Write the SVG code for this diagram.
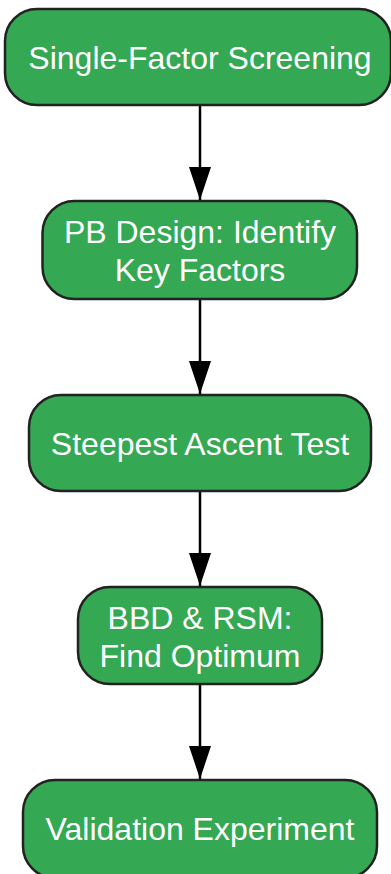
<svg xmlns="http://www.w3.org/2000/svg" width="391" height="874" viewBox="0 0 391 874">
<style>
.node rect{fill:#34a853;stroke:#222;stroke-width:2.5}
.node text{fill:#fff;font-family:"Liberation Sans",Arial,sans-serif;font-size:32px;text-anchor:middle}
.edge{stroke:#000;stroke-width:2.5;fill:none;marker-end:url(#ah)}
</style>
<defs>
<marker id="ah" markerUnits="userSpaceOnUse" markerWidth="34" markerHeight="24" refX="33" refY="11" orient="auto" viewBox="0 0 34 22">
<path d="M0,0 L33,11 L0,22 Z" fill="#000"/>
</marker>
</defs>
<rect width="391" height="874" fill="#fff"/>
<g id="connectors">
<line class="edge" x1="200" y1="105" x2="200" y2="200"/>
<line class="edge" x1="200" y1="299" x2="200" y2="394"/>
<line class="edge" x1="200" y1="491" x2="200" y2="586"/>
<line class="edge" x1="200" y1="684" x2="200" y2="779"/>
</g>
<g id="n1" class="node"><rect x="5" y="9" width="386" height="96" rx="32"/><text x="200" y="69">Single-Factor Screening</text></g>
<g id="n2" class="node"><rect x="42.5" y="201" width="314.5" height="98" rx="32"/><text x="200" y="243">PB Design: Identify</text><text x="200" y="281">Key Factors</text></g>
<g id="n3" class="node"><rect x="29" y="395" width="342" height="96" rx="32"/><text x="200" y="455">Steepest Ascent Test</text></g>
<g id="n4" class="node"><rect x="78" y="587" width="244" height="97" rx="32"/><text x="200" y="628.5">BBD &amp; RSM:</text><text x="200" y="666.5">Find Optimum</text></g>
<g id="n5" class="node"><rect x="23" y="780" width="354" height="98" rx="32"/><text x="200" y="840">Validation Experiment</text></g>
</svg>
